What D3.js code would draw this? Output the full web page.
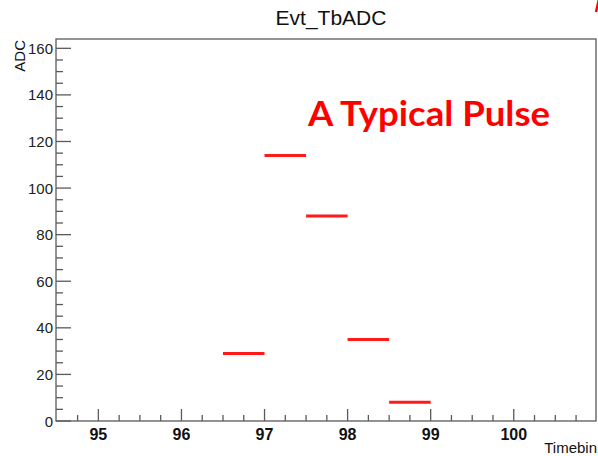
<!DOCTYPE html>
<html><head><meta charset="utf-8">
<script src="https://cdn.jsdelivr.net/npm/d3@7"></script>
<style>body{margin:0;background:#fff}svg{display:block}</style>
</head><body>
<svg id="c" width="598" height="456"></svg>
<script>
// Data
const binLow = [96.5, 97.0, 97.5, 98.0, 98.5];
const binHigh = [97.0, 97.5, 98.0, 98.5, 99.0];
const adcValues = [29, 114, 88, 35, 8];
const xTickValues = [95, 96, 97, 98, 99, 100];
const yTickValues = [0, 20, 40, 60, 80, 100, 120, 140, 160];
const titleText = "Evt_TbADC";
const xLabel = "Timebin";
const yLabel = "ADC";
const annotation = "A Typical Pulse";

const svg = d3.select("#c");
const L = 56, R = 596, T = 39, B = 421;
const x = d3.scaleLinear().domain([94.49, 100.99]).range([L, R]);
const y = d3.scaleLinear().domain([0, 164]).range([B, T]);
const axisColor = "#5a5a5a";

// frame
svg.append("rect").attr("x", L).attr("y", T).attr("width", R - L).attr("height", B - T)
  .attr("fill", "none").attr("stroke", axisColor).attr("stroke-width", 1.3);

// x ticks
const xMinor = d3.range(94.75, 101, 0.25).filter(v => Math.abs(v - Math.round(v)) > 1e-6);
svg.append("g").selectAll("line").data(xMinor).join("line")
  .attr("x1", d => x(d)).attr("x2", d => x(d)).attr("y1", B).attr("y2", B - 6)
  .attr("stroke", axisColor).attr("stroke-width", 1.3);
svg.append("g").selectAll("line").data(xTickValues).join("line")
  .attr("x1", d => x(d)).attr("x2", d => x(d)).attr("y1", B).attr("y2", B - 12)
  .attr("stroke", axisColor).attr("stroke-width", 1.3);
svg.append("g").selectAll("text").data(xTickValues).join("text")
  .attr("x", d => x(d)).attr("y", 440).attr("text-anchor", "middle")
  .attr("font-family", "Liberation Sans, Arial, sans-serif").attr("font-weight", "bold")
  .attr("font-size", 16).attr("fill", "#111").text(d => d);

// y ticks
const yMinor = d3.range(5, 165, 5).filter(v => v % 20 !== 0);
svg.append("g").selectAll("line").data(yMinor).join("line")
  .attr("x1", L).attr("x2", L + 7).attr("y1", d => y(d)).attr("y2", d => y(d))
  .attr("stroke", axisColor).attr("stroke-width", 1.3);
svg.append("g").selectAll("line").data(yTickValues).join("line")
  .attr("x1", L).attr("x2", L + 15).attr("y1", d => y(d)).attr("y2", d => y(d))
  .attr("stroke", axisColor).attr("stroke-width", 1.3);
svg.append("g").selectAll("text").data(yTickValues).join("text")
  .attr("x", 53).attr("y", d => y(d) + 5.5).attr("text-anchor", "end")
  .attr("font-family", "Liberation Sans, Arial, sans-serif")
  .attr("font-size", 15).attr("fill", "#222").text(d => d);

// bins
svg.append("g").selectAll("line").data(adcValues).join("line")
  .attr("x1", (d, i) => x(binLow[i])).attr("x2", (d, i) => x(binHigh[i]))
  .attr("y1", d => y(d)).attr("y2", d => y(d))
  .attr("stroke", "#ff1a1a").attr("stroke-width", 3);

// title
svg.append("text").attr("x", 331).attr("y", 25).attr("text-anchor", "middle")
  .attr("font-family", "Liberation Sans, Arial, sans-serif").attr("font-size", 21)
  .attr("fill", "#111").text(titleText);

// axis labels
svg.append("text").attr("x", 597).attr("y", 453).attr("text-anchor", "end")
  .attr("font-family", "Liberation Sans, Arial, sans-serif").attr("font-size", 15)
  .attr("fill", "#111").text(xLabel);
svg.append("text").attr("transform", "translate(25,40) rotate(-90)").attr("text-anchor", "end")
  .attr("font-family", "Liberation Sans, Arial, sans-serif").attr("font-size", 15)
  .attr("fill", "#111").text(yLabel);

// annotation
svg.append("text").attr("x", 308).attr("y", 126)
  .attr("font-family", "Lato, Open Sans, sans-serif").attr("font-weight", "bold")
  .attr("font-size", 35).attr("fill", "#ff0000")
  .attr("textLength", 242).attr("lengthAdjust", "spacingAndGlyphs").text(annotation);

// clipped red mark at top-right corner
svg.append("line").attr("x1", 599).attr("y1", -1).attr("x2", 596).attr("y2", 12)
  .attr("stroke", "#ff0000").attr("stroke-width", 2.5);
</script>
</body></html>
